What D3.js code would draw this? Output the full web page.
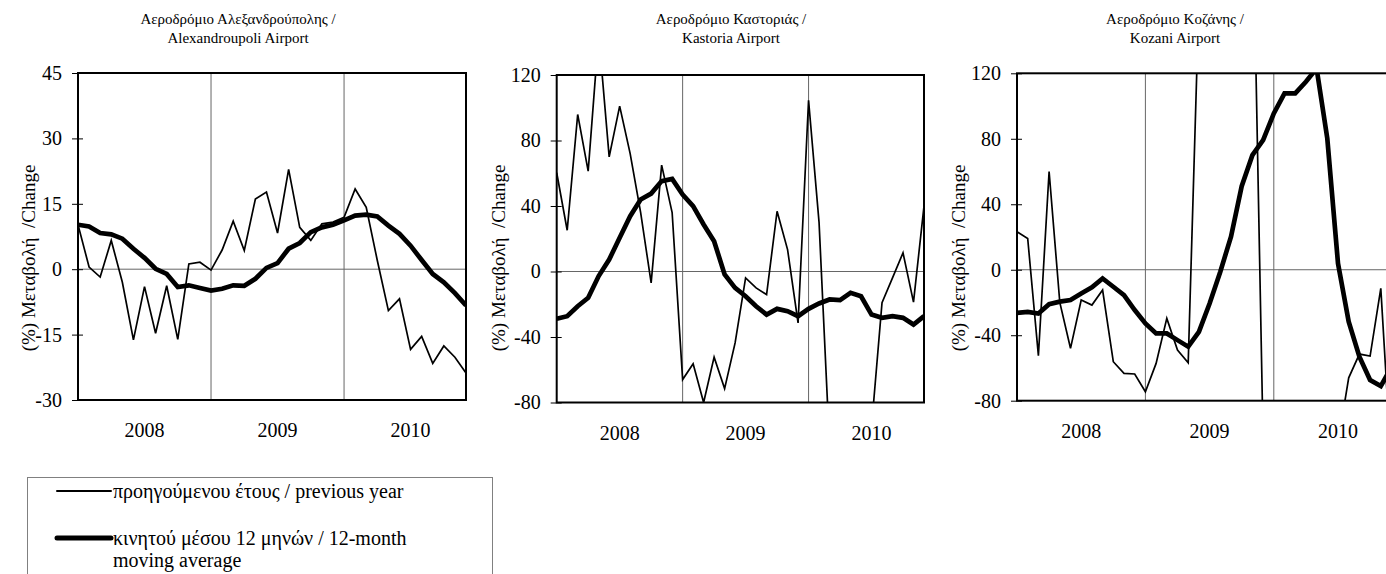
<!DOCTYPE html>
<html>
<head>
<meta charset="utf-8">
<script src="https://cdn.jsdelivr.net/npm/d3@7"></script>
<style>
body { margin: 0; background: #fff; }
svg, svg text { font-family: "Liberation Serif", "DejaVu Serif", "Noto Serif", Times, serif; fill: #000; }
</style>
</head>
<body>
<div id="chart"></div>
<script>
// months on the category axis
var months = ["2008-01","2008-02","2008-03","2008-04","2008-05","2008-06","2008-07","2008-08","2008-09","2008-10","2008-11","2008-12",
              "2009-01","2009-02","2009-03","2009-04","2009-05","2009-06","2009-07","2009-08","2009-09","2009-10","2009-11","2009-12",
              "2010-01","2010-02","2010-03","2010-04","2010-05","2010-06","2010-07","2010-08","2010-09","2010-10","2010-11","2010-12"];
var yearLabels = ["2008", "2009", "2010"];
var yearLabelMonths = ["2008-07", "2009-07", "2010-07"];
var yearGridMonths = ["2009-01", "2010-01"];

// % change vs previous year / 12-month moving average
var alexPrev = [10.2, 0.5, -1.8, 6.6, -3, -16.2, -4.0, -14.7, -3.8, -16.1, 1.2, 1.6,
                -0.2, 4.4, 11.0, 4.3, 16.1, 17.7, 8.3, 22.9, 9.6, 6.6, 10.4, 10.8,
                11.9, 18.4, 14.2, 2, -9.5, -6.8, -18.4, -15.4, -21.6, -17.6, -20.2, -23.8];
var alexAvg = [10.2, 9.8, 8.3, 8.0, 7.0, 4.7, 2.6, 0.1, -1.1, -4.1, -3.7, -4.3,
               -4.9, -4.5, -3.7, -3.8, -2.2, 0.3, 1.4, 4.7, 6.0, 8.5, 9.6, 10.2,
               11.2, 12.3, 12.5, 12.1, 10.0, 8.1, 5.4, 2.1, -1.1, -3.0, -5.5, -8.3];
var kastPrev = [60.3, 25.2, 95.9, 61.3, 145, 70, 101, 72, 36, -7, 65, 36,
                -66, -56.4, -80, -52.3, -71.5, -43.6, -3.9, -10, -14.1, 36.8, 13.4, -31.4,
                104.6, 30, -107, -110, -105, -100, -95, -19.1, -3.9, 11.4, -18.7, 39.9];
var kastAvg = [-28.9, -27.3, -21.2, -16.1, -2.8, 7.3, 20.6, 33.8, 44, 47.6, 55.2, 56.5,
               47, 39.9, 28.7, 18.5, -1.8, -10, -15.1, -21.2, -26.3, -22.8, -24.2, -27.3,
               -22.8, -19.5, -17.1, -17.5, -13, -15.1, -26.3, -28.3, -27.3, -28.3, -32.4, -27.3];
var kozPrev = [23.2, 19.1, -52.5, 60, -20, -48, -18.5, -21.6, -12.4, -56.2, -63.3, -63.7,
               -74.5, -57.2, -29.7, -49.1, -56.8, 165, 210, 230, 240, 245, 235, -104,
               -110, -115, -120, -118, -112, -108, -106, -66, -51.5, -52.7, -11.4, -121];
var kozAvg = [-26.3, -25.7, -26.7, -21.0, -19.5, -18.5, -14.5, -10.8, -5.3, -10.4, -15.5, -24.6,
              -32.8, -38.9, -38.9, -43, -47, -37.9, -20.6, -1.2, 20.2, 51, 70, 79.2,
              95.5, 107.7, 107.7, 114.8, 123, 80.2, 3.9, -31.8, -53.1, -67.4, -71.1, -59.4];

var ticksAlex = [-30, -15, 0, 15, 30, 45];
var ticksOther = [-80, -40, 0, 40, 80, 120];

var titleAlex = ["Αεροδρόμιο Αλεξανδρούπολης /", "Alexandroupoli Airport"];
var titleKast = ["Αεροδρόμιο Καστοριάς /", "Kastoria Airport"];
var titleKoz = ["Αεροδρόμιο Κοζάνης /", "Kozani Airport"];
var yTitle = "(%) Μεταβολή  /Change";
var legendLabels = [["προηγούμενου έτους / previous year"], ["κινητού μέσου 12 μηνών / 12-month", "moving average"]];

var serif = '"Liberation Serif", "DejaVu Serif", "Noto Serif", Times, serif';

var svg = d3.select('#chart')
    .append('svg')
    .attr('width', 1386)
    .attr('height', 574)
    .attr('font-family', serif);

function airportChart(id, prev, avg, ticks, title, box) {
    var width = box.width, height = box.height;

    var x = d3.scalePoint().domain(months).range([0, width]);
    var y = d3.scaleLinear().domain([ticks[0], ticks[ticks.length - 1]]).range([height, 0]);

    var g = svg.append('g')
        .attr('transform', 'translate(' + box.left + ',' + box.top + ')');

    g.append('clipPath').attr('id', 'clip-' + id)
        .append('rect').attr('width', width).attr('height', height);

    // zero line + year separators
    g.append('line')
        .attr('x1', 0).attr('x2', width)
        .attr('y1', y(0)).attr('y2', y(0))
        .attr('stroke', '#666').attr('stroke-width', 1);
    g.selectAll('.vgrid').data(yearGridMonths).enter().append('line')
        .attr('class', 'vgrid')
        .attr('x1', function(d) { return x(d); }).attr('x2', function(d) { return x(d); })
        .attr('y1', 0).attr('y2', height)
        .attr('stroke', '#666').attr('stroke-width', 1);

    var line = d3.line()
        .x(function(d, i) { return x(months[i]); })
        .y(function(d) { return y(d); });

    var lines = g.append('g').attr('clip-path', 'url(#clip-' + id + ')');
    lines.append('path').datum(prev)
        .attr('d', line).attr('fill', 'none')
        .attr('stroke', '#000').attr('stroke-width', 1.7);
    lines.append('path').datum(avg)
        .attr('d', line).attr('fill', 'none')
        .attr('stroke', '#000').attr('stroke-width', 4.7);

    g.append('rect')
        .attr('width', width).attr('height', height)
        .attr('fill', 'none').attr('stroke', '#000').attr('stroke-width', 2);

    var yAxis = d3.axisLeft(y)
        .tickValues(ticks)
        .tickSize(6)
        .tickPadding(10)
        .tickFormat(function(d) { return String(d); });
    var ax = g.append('g').call(yAxis)
        .attr('font-family', serif)
        .attr('font-size', 20);
    ax.select('.domain').remove();
    ax.selectAll('.tick line').attr('x2', -6).attr('x1', 5).attr('stroke', '#000');

    g.selectAll('.xlabel').data(yearLabels).enter().append('text')
        .attr('class', 'xlabel')
        .attr('x', function(d, i) { return x(yearLabelMonths[i]); })
        .attr('y', height + 37)
        .attr('text-anchor', 'middle')
        .attr('font-size', 20)
        .text(function(d) { return d; });

    svg.append('text')
        .attr('transform', 'translate(' + box.ytx + ',258) rotate(-90)')
        .attr('text-anchor', 'middle')
        .attr('font-size', 19)
        .style('white-space', 'pre')
        .text(yTitle);

    svg.selectAll('.title-' + id).data(title).enter().append('text')
        .attr('class', 'title-' + id)
        .attr('x', box.tx)
        .attr('y', function(d, i) { return 24 + i * 19; })
        .attr('text-anchor', 'middle')
        .attr('font-size', 15)
        .text(function(d) { return d; });
}

airportChart('alex', alexPrev, alexAvg, ticksAlex, titleAlex,
    {left: 78, top: 73, width: 388, height: 327, ytx: 35, tx: 238});
airportChart('kast', kastPrev, kastAvg, ticksOther, titleKast,
    {left: 556.7, top: 75, width: 367.3, height: 327.5, ytx: 505, tx: 731});
airportChart('koz', kozPrev, kozAvg, ticksOther, titleKoz,
    {left: 1017, top: 73.3, width: 374.5, height: 327.4, ytx: 965, tx: 1175});

// legend
var legend = svg.append('g');
legend.append('rect')
    .attr('x', 27.5).attr('y', 477.5)
    .attr('width', 465).attr('height', 130)
    .attr('fill', 'none').attr('stroke', '#808080').attr('stroke-width', 1);

var legendRows = [{y: 491, w: 2}, {y: 538, w: 5}];
legendRows.forEach(function(r, i) {
    legend.append('line')
        .attr('x1', 57).attr('x2', 111)
        .attr('y1', r.y).attr('y2', r.y)
        .attr('stroke', '#000').attr('stroke-width', r.w)
        .attr('stroke-linecap', 'round');
    legend.selectAll('.lt' + i).data(legendLabels[i]).enter().append('text')
        .attr('class', 'lt' + i)
        .attr('x', 113)
        .attr('y', function(d, j) { return r.y + 7 + j * 22; })
        .attr('font-size', 20)
        .text(function(d) { return d; });
});
</script>
</body>
</html>
